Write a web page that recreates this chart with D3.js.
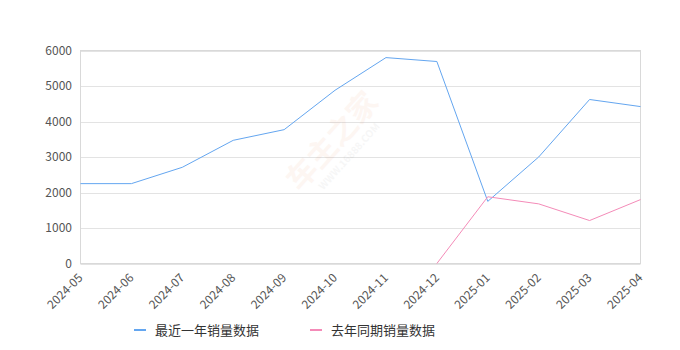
<!DOCTYPE html>
<html>
<head>
<meta charset="utf-8">
<script src="https://cdn.jsdelivr.net/npm/d3@7"></script>
<style>
  body { margin: 0; background: #fff; }
  text { font-family: "Noto Sans CJK SC", "DejaVu Sans", sans-serif; }
</style>
</head>
<body>
<svg id="chart" width="680" height="350"></svg>
<script>
"use strict";
var months = ["2024-05", "2024-06", "2024-07", "2024-08", "2024-09", "2024-10",
              "2024-11", "2024-12", "2025-01", "2025-02", "2025-03", "2025-04"];
var recentSales = [2250, 2250, 2710, 3470, 3770, 4880, 5800, 5690, 1750, 3000, 4620, 4420];
var lastYearSales = [null, null, null, null, null, null, null, 0, 1880, 1680, 1210, 1800];
var yTicks = [0, 1000, 2000, 3000, 4000, 5000, 6000];
var seriesNames = ["最近一年销量数据", "去年同期销量数据"];
var seriesColors = ["#64a6f0", "#f48bb8"];

(function () {
var svg = d3.select("#chart"),
    plotLeft = 80.5, plotRight = 640.5, plotTop = 50.5, plotBottom = 263.5;

var x = d3.scalePoint().domain(months).range([plotLeft, plotRight]);
var y = d3.scaleLinear().domain([0, 6000]).range([plotBottom, plotTop]);

// grid
svg.append("g").selectAll("line")
    .data(yTicks)
    .enter().append("line")
    .attr("x1", plotLeft).attr("x2", plotRight)
    .attr("y1", function (d) { return Math.round(y(d)) + 0.5; })
    .attr("y2", function (d) { return Math.round(y(d)) + 0.5; })
    .attr("stroke", "#e3e3e3");

// frame
svg.append("rect")
    .attr("x", plotLeft).attr("y", plotTop)
    .attr("width", plotRight - plotLeft).attr("height", plotBottom - plotTop)
    .attr("fill", "none").attr("stroke", "#d9d9d9");

// watermark
var wm = svg.append("g")
    .attr("transform", "translate(340,148) rotate(-48)")
    .attr("opacity", 0.06);
wm.append("text").attr("text-anchor", "middle").attr("y", 0)
    .attr("font-size", 30).attr("font-weight", "bold").attr("fill", "#e0703a")
    .text("车主之家");
wm.append("text").attr("text-anchor", "middle").attr("y", 16)
    .attr("font-size", 10).attr("font-weight", "bold").attr("fill", "#777")
    .text("WWW.16888.COM");

// y axis labels
svg.append("g").selectAll("text")
    .data(yTicks)
    .enter().append("text")
    .attr("x", 72)
    .attr("y", function (d) { return y(d); })
    .attr("dy", "0.35em")
    .attr("text-anchor", "end")
    .attr("font-size", 12)
    .attr("fill", "#555")
    .text(function (d) { return d; });

// x axis labels
svg.append("g").selectAll("text")
    .data(months)
    .enter().append("text")
    .attr("transform", function (d) {
        return "translate(" + x(d) + "," + (plotBottom + 12) + ") rotate(-45)";
    })
    .attr("text-anchor", "end")
    .attr("dy", "0.35em")
    .attr("font-size", 12)
    .attr("fill", "#555")
    .text(function (d) { return d; });

// lines
var line = d3.line()
    .defined(function (d) { return d != null; })
    .x(function (d, i) { return x(months[i]); })
    .y(function (d) { return y(d); });

[recentSales, lastYearSales].forEach(function (s, k) {
    svg.append("path")
        .datum(s)
        .attr("d", line)
        .attr("fill", "none")
        .attr("stroke", seriesColors[k])
        .attr("stroke-width", 1);
});

// legend
var legend = svg.append("g").selectAll("g")
    .data(seriesNames)
    .enter().append("g")
    .attr("transform", function (d, i) { return "translate(" + (134 + i * 176) + ",330)"; });
legend.append("line")
    .attr("x1", 0).attr("x2", 12)
    .attr("stroke", function (d, i) { return seriesColors[i]; })
    .attr("stroke-width", 2);
legend.append("text")
    .attr("x", 21).attr("dy", "0.35em")
    .attr("font-size", 13)
    .attr("fill", "#333")
    .text(function (d) { return d; });
})();
</script>
</body>
</html>
